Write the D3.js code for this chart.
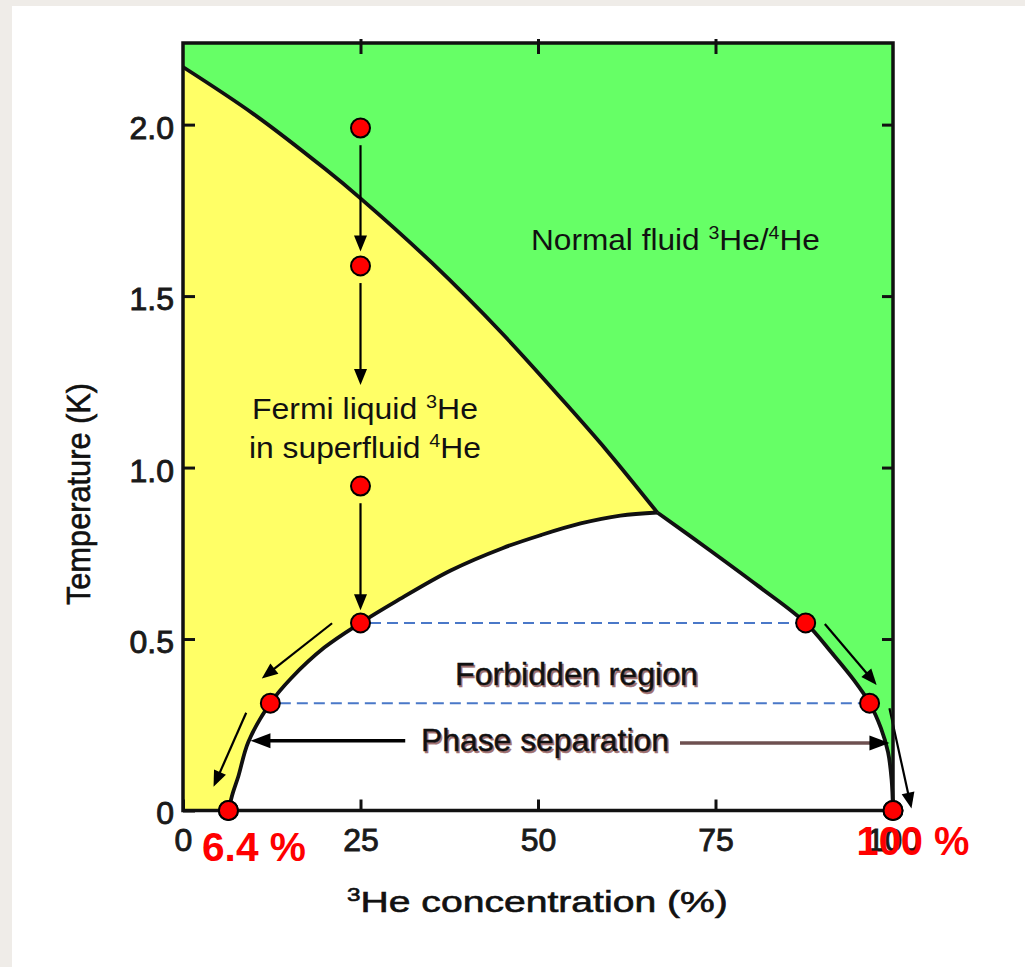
<!DOCTYPE html>
<html><head><meta charset="utf-8">
<script src="https://cdn.jsdelivr.net/npm/d3@7"></script>
<style>
body{margin:0;background:#fff}
svg{display:block}
text{font-family:"Liberation Sans",Arial,Helvetica,sans-serif}
</style>
</head><body>
<svg id="c" width="1025" height="967"></svg>
<script>
// ---------------- data ----------------
const xTicks = [0, 25, 50, 75, 100];
const xTickLabels = ["0", "25", "50", "75", "100"];
const yTicks = [0, 0.5, 1.0, 1.5, 2.0];
const yTickLabels = ["0", "0.5", "1.0", "1.5", "2.0"];

// lambda line (superfluid transition), % 3He vs K
const lambdaLine = [[0,2.168],[10,2.03],[20,1.871],[25,1.785],[35,1.598],[45,1.39],[55,1.161],[60,1.042],[66.8,0.869]];
// phase separation curve, dilute (left) branch, from T=0 up to tricritical point
const sepLeft = [[6.4,0],[7.0,0.05],[7.8,0.1],[9.2,0.2],[12.3,0.313],[15.2,0.385],[19.9,0.475],[25,0.547],[30,0.61],[37.7,0.7],[45,0.765],[50.4,0.803],[56,0.837],[61.6,0.86],[66.8,0.869]];
// concentrated (right) branch, from tricritical point down to T=0
const sepRight = [[66.8,0.869],[74,0.762],[81,0.655],[87.7,0.547],[91.4,0.459],[94.5,0.38],[96.7,0.313],[98.3,0.24],[99.3,0.17],[99.8,0.09],[100,0]];

// state points (red dots)
const points = [[25,1.99],[25,1.588],[25,0.946],[25,0.547],[12.3,0.313],[6.4,0],[87.7,0.547],[96.7,0.313],[100,0]];
// tie lines (dashed): [xLeft, xRight, T]
const tieLines = [[25,87.7,0.547],[12.3,96.7,0.313]];
// arrows: [x0, T0, x1, T1]
const arrows = [
  [25,1.94,25,1.63],
  [25,1.538,25,1.241],
  [25,0.896,25,0.584],
  [21.0,0.546,11.1,0.385],
  [8.9,0.285,4.3,0.069],
  [90.4,0.544,97.7,0.366],
  [99.5,0.298,102.6,0.006]
];
const phaseArrows = [
  [31.3,0.2035,9.5,0.2035],
  [70.0,0.197,99.5,0.197]
];

// ---------------- drawing ----------------
const W = 1025, H = 967;
const svg = d3.select("#c");
const x = d3.scaleLinear().domain([0,100]).range([183,893]);
const y = d3.scaleLinear().domain([0,2.238]).range([810.5,43]);

svg.append("rect").attr("width",W).attr("height",H).attr("fill","#efece8");
svg.append("rect").attr("x",12).attr("y",6).attr("width",W-12).attr("height",H-6).attr("fill","#fff");

const line = d3.line().x(d=>x(d[0])).y(d=>y(d[1])).curve(d3.curveCatmullRom.alpha(0.5));
const join = (...ps) => ps.map((p,i)=> i ? p.replace(/^M/,"L") : p).join("");

// regions
svg.append("rect").attr("x",x(0)).attr("y",y(2.238)).attr("width",x(100)-x(0)).attr("height",y(0)-y(2.238)).attr("fill","#66ff66");
svg.append("path").attr("d", join(line(lambdaLine), line(sepLeft.slice().reverse())) + `L${x(0)},${y(0)}Z`).attr("fill","#ffff66");
svg.append("path").attr("d", join(line(sepLeft), line(sepRight)) + "Z").attr("fill","#ffffff");

// curves
[lambdaLine, sepLeft, sepRight].forEach(c=>{
  svg.append("path").attr("d", line(c)).attr("fill","none").attr("stroke","#111").attr("stroke-width",3.8).attr("stroke-linejoin","round");
});

// tie lines
const R = 9.5;
tieLines.forEach(t=>{
  svg.append("line").attr("x1",x(t[0])+R).attr("x2",x(t[1])-R).attr("y1",y(t[2])).attr("y2",y(t[2]))
    .attr("stroke","#4a78c8").attr("stroke-width",2).attr("stroke-dasharray","11,6");
});

// arrows
function arrow(a, opt){
  const x0=x(a[0]), y0=y(a[1]), x1=x(a[2]), y1=y(a[3]);
  const dx=x1-x0, dy=y1-y0, L=Math.hypot(dx,dy), ux=dx/L, uy=dy/L;
  const hl=opt.hl, hw=opt.hw;
  svg.append("line").attr("x1",x0).attr("y1",y0).attr("x2",x1-ux*hl*0.8).attr("y2",y1-uy*hl*0.8)
    .attr("stroke",opt.color).attr("stroke-width",opt.sw);
  const bx=x1-ux*hl, by=y1-uy*hl;
  svg.append("path").attr("d",`M${x1},${y1}L${bx-uy*hw},${by+ux*hw}L${bx+uy*hw},${by-ux*hw}Z`).attr("fill","#000");
}
arrows.forEach(a=>arrow(a,{hl:16,hw:6.5,sw:2.2,color:"#000"}));
phaseArrows.forEach((a,i)=>arrow(a,{hl:20,hw:7.5,sw:3.5,color: i===1 ? "#6e5050" : "#000"}));

// dots
svg.selectAll("circle.pt").data(points).join("circle").attr("class","pt")
  .attr("cx",d=>x(d[0])).attr("cy",d=>y(d[1])).attr("r",R)
  .attr("fill","#ff0000").attr("stroke","#000").attr("stroke-width",2);

// labels
function drawLabel(o){
  const make=(dx,dy,fill)=>{
    const t=svg.append("text").attr("x",o.x+dx).attr("y",o.y+dy).attr("font-size",o.size)
      .attr("font-weight",o.weight||"normal").attr("fill",fill).attr("text-anchor",o.anchor||"start");
    if(o.stroke) t.attr("stroke",fill).attr("stroke-width",o.stroke);
    let sup=false;
    o.parts.forEach(p=>{
      const isSup=Array.isArray(p);
      const s=t.append("tspan").text(isSup?p[0]:p);
      if(isSup){s.attr("font-size",o.size*0.62).attr("dy",-o.size*0.38); sup=true;}
      else if(sup){s.attr("dy",o.size*0.38); sup=false;}
    });
    return t;
  };
  const sh = o.shadow ? make(1.6,1.6,o.shadow) : null;
  const t = make(0,0,o.fill||"#111");
  if(o.width){
    const bb=t.node().getBBox();
    const k=o.width/bb.width;
    const cx = o.anchor==="middle" ? bb.x+bb.width/2 : bb.x;
    const tr=`translate(${cx*(1-k)},0) scale(${k},1)`;
    t.attr("transform",tr); if(sh) sh.attr("transform",tr);
  }
  return t;
}
drawLabel({parts:["Normal fluid ",["3"],"He/",["4"],"He"], x:531, y:250, size:30, width:289});
drawLabel({parts:["Fermi liquid ",["3"],"He"], x:252, y:419, size:29, width:226});
drawLabel({parts:["in superfluid ",["4"],"He"], x:249, y:458, size:29, width:232});
drawLabel({parts:["Forbidden region"], x:455, y:685, size:32, width:243, shadow:"#a07070", stroke:0.4});
drawLabel({parts:["Phase separation"], x:421, y:751, size:32, width:248, shadow:"#a07070", stroke:0.4});
drawLabel({parts:[["3"],"He concentration (%)"], x:347, y:912, size:29, width:381, fill:"#111", stroke:0.6});

// y title
svg.append("text").attr("transform","translate(90,494) rotate(-90)").attr("text-anchor","middle")
  .attr("font-size",33).attr("fill","#111").attr("stroke","#111").attr("stroke-width",0.6)
  .attr("textLength",222).attr("lengthAdjust","spacingAndGlyphs")
  .text("Temperature (K)");

// axes (ticks inward, frame drawn separately)
const ax = svg.append("g").attr("transform",`translate(0,${y(0)})`)
  .call(d3.axisBottom(x).tickValues(xTicks).tickSize(-11).tickPadding(18).tickFormat((d,i)=>xTickLabels[i]));
const ay = svg.append("g").attr("transform",`translate(${x(0)},0)`)
  .call(d3.axisLeft(y).tickValues(yTicks).tickSize(-12).tickPadding(9).tickFormat((d,i)=>yTickLabels[i]));
const ar = svg.append("g").attr("transform",`translate(${x(100)},0)`)
  .call(d3.axisRight(y).tickValues(yTicks.slice(1)).tickSize(-11).tickFormat(""));
const at = svg.append("g").attr("transform",`translate(0,${y(2.238)})`)
  .call(d3.axisTop(x).tickValues(xTicks.slice(1,4)).tickSize(-11).tickFormat(""));
at.selectAll(".tick line").attr("y1",-4);
[ax,ay,ar,at].forEach(g=>{
  g.select(".domain").remove();
  g.selectAll(".tick line").attr("stroke","#111").attr("stroke-width",3);
  g.selectAll(".tick text").attr("font-size",32).attr("fill","#1a1a1a")
    .attr("font-family","'Liberation Sans',Arial,sans-serif").attr("stroke","#1a1a1a").attr("stroke-width",0.9);
});
ay.selectAll(".tick text").attr("dy","0.42em");
ax.selectAll(".tick text").attr("dy","0.71em");

// frame
svg.append("rect").attr("x",x(0)).attr("y",y(2.238)).attr("width",x(100)-x(0)).attr("height",y(0)-y(2.238))
  .attr("fill","none").attr("stroke","#111").attr("stroke-width",3.5);

// redraw dots on the frame so they sit on top
svg.selectAll("circle.pt2").data(points.filter(p=>p[1]===0)).join("circle").attr("class","pt2")
  .attr("cx",d=>x(d[0])).attr("cy",d=>y(d[1])).attr("r",R)
  .attr("fill","#ff0000").attr("stroke","#000").attr("stroke-width",2);

// red highlight labels
drawLabel({parts:["6.4 %"], x:254, y:861, size:40, weight:"bold", fill:"#ff0000", anchor:"middle", width:104});
drawLabel({parts:["100 %"], x:913, y:855, size:40, weight:"bold", fill:"#ff0000", anchor:"middle", width:113});
</script>
</body></html>
